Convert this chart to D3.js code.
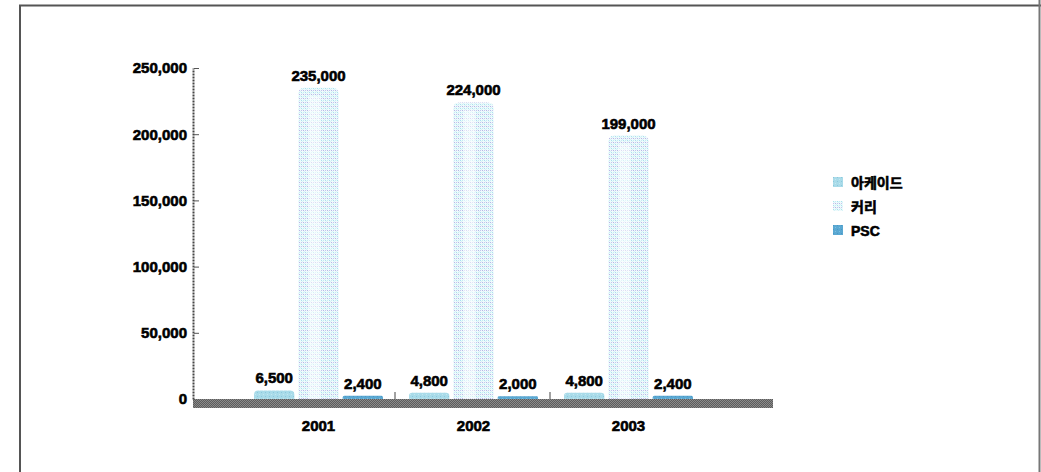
<!DOCTYPE html>
<html>
<head>
<meta charset="utf-8">
<script src="https://cdn.jsdelivr.net/npm/d3@7"></script>
<style>
  html, body { margin: 0; padding: 0; background: #fff; }
  svg { display: block; }
  text { font-family: "Liberation Sans", Arial, "Noto Sans CJK KR", sans-serif; font-weight: bold; fill: #000; stroke: #000; stroke-width: 0.6px; }
</style>
</head>
<body>
<svg id="chart" width="1041" height="472"></svg>
<script>
// Yearly figures per series
const years = ["2001", "2002", "2003"];
const seriesNames = ["아케이드", "커리", "PSC"];
const arcadeValues = [6500, 4800, 4800];
const curryValues = [235000, 224000, 199000];
const pscValues = [2400, 2000, 2400];
const yTicks = [0, 50000, 100000, 150000, 200000, 250000];

const seriesValues = [arcadeValues, curryValues, pscValues];
const rows = years.map((y, i) => ({
  year: y,
  values: seriesNames.map((s, j) => ({ series: s, idx: j, value: seriesValues[j][i] }))
}));

const svg = d3.select("#chart");
const defs = svg.append("defs");

// Dotted fills
function dotPattern(id, bg, dots) {
  const p = defs.append("pattern").attr("id", id)
    .attr("patternUnits", "userSpaceOnUse").attr("width", 4).attr("height", 4);
  p.append("rect").attr("width", 4).attr("height", 4).attr("fill", bg);
  dots.forEach(d => p.append("rect").attr("x", d[0]).attr("y", d[1])
    .attr("width", 1).attr("height", 1).attr("fill", d[2]));
}
dotPattern("pArcade", "#a9dbe9", [[0, 0, "#8cc8dc"], [2, 2, "#c3e8f1"]]);
dotPattern("pCurry", "#eefafc", [[0, 0, "#a8e2ee"], [2, 2, "#b9b4e6"], [2, 0, "#c4ecf3"], [0, 2, "#c8c2ec"], [1, 1, "#d6f3f7"], [3, 3, "#d6f3f7"]]);
dotPattern("pPsc", "#5aa8d2", [[0, 0, "#4a97c4"], [2, 2, "#7cbfe0"]]);
const fills = ["url(#pArcade)", "url(#pCurry)", "url(#pPsc)"];

// Floor texture
const fp = defs.append("pattern").attr("id", "pFloor")
  .attr("patternUnits", "userSpaceOnUse").attr("width", 2).attr("height", 2);
fp.append("rect").attr("width", 2).attr("height", 2).attr("fill", "#5c5c5c");
fp.append("rect").attr("width", 1).attr("height", 1).attr("fill", "#8a8a8a");
fp.append("rect").attr("x", 1).attr("y", 1).attr("width", 1).attr("height", 1).attr("fill", "#8a8a8a");

// Frame
svg.append("path").attr("d", "M20,472 V5.5 H1041").attr("fill", "none")
  .attr("stroke", "#555").attr("stroke-width", 2);
svg.append("line").attr("x1", 1039.5).attr("x2", 1039.5).attr("y1", 0).attr("y2", 472)
  .attr("stroke", "#777").attr("stroke-width", 2);

const y = d3.scaleLinear().domain([0, 250000]).range([399, 68]);
const x0 = d3.scaleBand().domain(years).range([241, 706]);
const x1 = d3.scaleBand().domain(seriesNames).range([13, 142]).paddingInner(0.09);

// Floor
svg.append("rect").attr("x", 193).attr("y", 399).attr("width", 580).attr("height", 9)
  .attr("fill", "url(#pFloor)");

// Y axis
const yAxis = d3.axisLeft(y).tickValues(yTicks).tickSize(0).tickPadding(6)
  .tickFormat(d3.format(","));
const gy = svg.append("g").attr("transform", "translate(193,0)").call(yAxis);
gy.select(".domain").attr("stroke", "#444").attr("stroke-width", 2).attr("stroke-dasharray", "2,1");
gy.selectAll(".tick text").attr("font-size", 15).attr("font-weight", "bold")
  .attr("font-family", "Liberation Sans, Arial, sans-serif").attr("fill", "#000");
gy.selectAll(".tick").filter(d => d > 0).append("line")
  .attr("x1", 1).attr("x2", 6).attr("stroke", "#555");

// Category separators
svg.selectAll(".sep").data(years.slice(1)).join("line")
  .attr("x1", d => x0(d) - 1).attr("x2", d => x0(d) - 1)
  .attr("y1", 392).attr("y2", 399).attr("stroke", "#444");

// Bars
const groups = svg.selectAll(".grp").data(rows).join("g")
  .attr("transform", d => `translate(${x0(d.year)},0)`);

groups.selectAll(".bar").data(d => d.values).join("path")
  .attr("d", d => {
    const bx = x1(d.series), w = x1.bandwidth(), top = y(d.value), bot = y(0);
    const r = Math.min(6, (bot - top) / 2, w / 2);
    return `M${bx},${bot} V${top + r} Q${bx},${top} ${bx + r},${top} H${bx + w - r} Q${bx + w},${top} ${bx + w},${top + r} V${bot} Z`;
  })
  .attr("fill", d => fills[d.idx]);

// Light highlight stripe on the tall cylinders
groups.selectAll(".hl").data(d => d.values.filter(v => v.idx === 1)).join("rect")
  .attr("x", d => x1(d.series) + x1.bandwidth() * 0.25)
  .attr("y", d => y(d.value) + 8)
  .attr("width", x1.bandwidth() * 0.3)
  .attr("height", d => y(0) - y(d.value) - 8)
  .attr("fill", "#ffffff").attr("opacity", 0.5);

groups.selectAll(".val").data(d => d.values).join("text")
  .attr("x", d => x1(d.series) + x1.bandwidth() / 2)
  .attr("y", d => y(d.value) - 7)
  .attr("text-anchor", "middle").attr("font-size", 15)
  .text(d => d3.format(",")(d.value));

// Category labels
svg.selectAll(".cat").data(years).join("text")
  .attr("x", d => x0(d) + x0.bandwidth() / 2).attr("y", 431)
  .attr("text-anchor", "middle").attr("font-size", 15).text(d => d);

// Legend
const lg = svg.append("g").attr("transform", "translate(833,177)");
const li = lg.selectAll("g").data(seriesNames).join("g")
  .attr("transform", (d, i) => `translate(0,${i * 24})`);
li.append("rect").attr("width", 10).attr("height", 10).attr("fill", (d, i) => fills[i]);
li.append("text").attr("x", 18).attr("y", 11).attr("font-size", 14)
  .attr("font-family", "Noto Sans CJK KR, Liberation Sans, sans-serif").text(d => d);
</script>
</body>
</html>
